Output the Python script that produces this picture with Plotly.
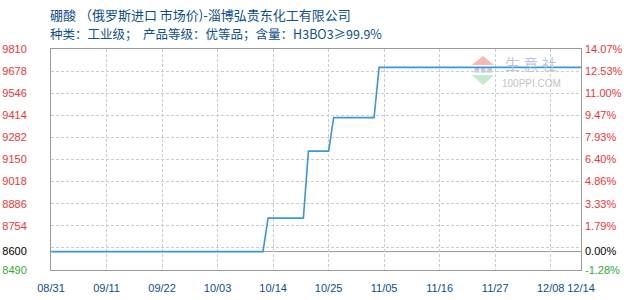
import plotly.graph_objects as go

# ---- data ----
dates = ["2021-08-31", "2021-10-12", "2021-10-13", "2021-10-20", "2021-10-21",
         "2021-10-25", "2021-10-26", "2021-11-03", "2021-11-04", "2021-12-14"]
prices = [8600, 8600, 8800, 8800, 9200, 9200, 9400, 9400, 9700, 9700]
base_price = 8600

y_tick_vals = [9810, 9678, 9546, 9414, 9282, 9150, 9018, 8886, 8754, 8600, 8490]
y_tick_text = ["9810", "9678", "9546", "9414", "9282", "9150", "9018", "8886", "8754", "8600", "8490"]
pct_tick_text = ["14.07%", "12.53%", "11.00%", "9.47%", "7.93%", "6.40%", "4.86%",
                 "3.33%", "1.79%", "0.00%", "-1.28%"]
grid_vals = [9810, 9678, 9546, 9414, 9282, 9150, 9018, 8886, 8754, 8622, 8490]
x_tick_dates = ["2021-08-31", "2021-09-11", "2021-09-22", "2021-10-03", "2021-10-14",
                "2021-10-25", "2021-11-05", "2021-11-16", "2021-11-27", "2021-12-08", "2021-12-14"]
x_tick_labels = ["08/31", "09/11", "09/22", "10/03", "10/14", "10/25", "11/05",
                 "11/16", "11/27", "12/08", "12/14"]

title_line1 = "硼酸 （俄罗斯进口 市场价)-淄博弘贵东化工有限公司"
title_line2 = "种类：工业级；  产品等级：优等品；含量：H3BO3≥99.9%"

RED = "#f03434"
GREEN = "#2fae2f"
BLUE_TXT = "#0e4f86"


def colored(labels, vals):
    out = []
    for lab, v in zip(labels, vals):
        if v > base_price:
            c = RED
        elif v == base_price:
            c = "#000000"
        else:
            c = GREEN
        out.append(f'<span style="color:{c}">{lab}</span>')
    return out


fig = go.Figure()
fig.add_trace(go.Scatter(x=dates, y=prices, mode="lines",
                         line=dict(color="#3b98d6", width=1.6),
                         hoverinfo="skip", showlegend=False))
# invisible trace for right axis
fig.add_trace(go.Scatter(x=dates, y=prices, yaxis="y2", mode="lines",
                         line=dict(width=0), opacity=0, hoverinfo="skip", showlegend=False))

fig.add_shape(type="line", xref="paper", x0=0, x1=1, yref="y", y0=base_price, y1=base_price,
              line=dict(color="#9a9a9a", width=1), layer="below")

x0 = dates[0]
x1 = dates[-1]

fig.update_layout(
    width=630, height=300,
    margin=dict(l=51, r=49, t=49, b=30),
    paper_bgcolor="white", plot_bgcolor="white",
    font=dict(family="Liberation Sans, Arial", size=11),
    xaxis=dict(type="date", range=[x0, x1], tickvals=x_tick_dates, ticktext=x_tick_labels,
               showgrid=True, gridcolor="#cccccc", griddash="3px,2px", gridwidth=1,
               showline=True, linecolor="#9a9a9a", linewidth=1, mirror=True,
               ticks="", tickfont=dict(color=BLUE_TXT, size=11), ticklabelstandoff=8,
               tickangle=0, automargin=False, zeroline=False),
    yaxis=dict(range=[8490, 9810], tickvals=y_tick_vals,
               ticktext=colored(y_tick_text, y_tick_vals),
               showgrid=False, zeroline=False, automargin=False,
               showline=True, linecolor="#9a9a9a", linewidth=1, mirror=True,
               ticks="", tickfont=dict(size=11), ticklabelstandoff=21),
    yaxis2=dict(range=[8490, 9810], overlaying="y", side="right", automargin=False,
                tickvals=y_tick_vals, ticktext=colored(pct_tick_text, y_tick_vals),
                showgrid=False, zeroline=False, showline=False, ticks="",
                tickfont=dict(size=11), ticklabelstandoff=3),
    yaxis3=dict(range=[8490, 9810], overlaying="y", tickvals=grid_vals, automargin=False,
                showticklabels=False, showgrid=True, gridcolor="#cccccc",
                griddash="3px,2px", gridwidth=1, zeroline=False, showline=False),
)
# dummy trace to activate grid axis
fig.add_trace(go.Scatter(x=[x0], y=[base_price], yaxis="y3", mode="markers",
                         marker=dict(opacity=0), hoverinfo="skip", showlegend=False))

# titles
fig.add_annotation(text=title_line1, xref="paper", yref="paper", x=-0.006, y=1.155,
                   xanchor="left", yanchor="middle", showarrow=False,
                   font=dict(family="Noto Sans CJK SC", size=13, color=BLUE_TXT))
fig.add_annotation(text=title_line2, xref="paper", yref="paper", x=-0.006, y=1.072,
                   xanchor="left", yanchor="middle", showarrow=False,
                   font=dict(family="Noto Sans CJK SC", size=12.5, color=BLUE_TXT))

# watermark (logo triangles + text)
fig.add_shape(type="path", xref="paper", yref="paper",
              path="M 0.794 0.928 L 0.836 0.928 L 0.815 0.968 Z",
              fillcolor="#f5b8b8", line=dict(width=0), layer="below")
fig.add_shape(type="path", xref="paper", yref="paper",
              path="M 0.794 0.882 L 0.836 0.882 L 0.815 0.837 Z",
              fillcolor="#c6e9cb", line=dict(width=0), layer="below")
for bx in (0.799, 0.811, 0.823):
    fig.add_shape(type="rect", xref="paper", yref="paper",
                  x0=bx, x1=bx + 0.009, y0=0.893, y1=0.916,
                  fillcolor="#c8ccd8", line=dict(width=0), layer="below")
wm = dict(xref="paper", yref="paper", showarrow=False, xanchor="center", yanchor="middle")
fig.add_annotation(text="生 意 社", x=0.905, y=0.935,
                   font=dict(family="Noto Sans CJK SC", size=15, color="#bcc6de"), **wm)
fig.add_annotation(text="100PPI.COM", x=0.907, y=0.846,
                   font=dict(size=10, color="#c4c4c4"), **wm)

fig.write_html("out.html")
